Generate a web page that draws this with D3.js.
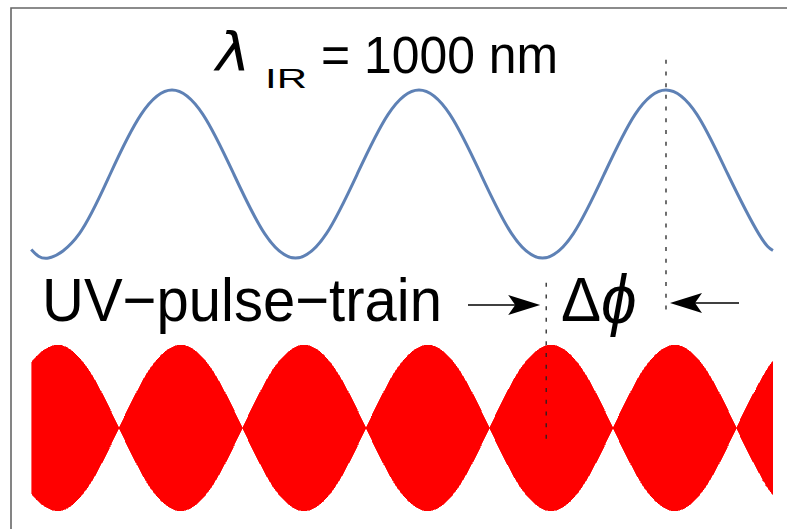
<!DOCTYPE html>
<html>
<head>
<meta charset="utf-8">
<script src="https://cdn.jsdelivr.net/npm/d3@7"></script>
<style>
  body { margin: 0; background: #fff; }
  text { font-family: "Liberation Sans", Arial, sans-serif; fill: #000; }
</style>
</head>
<body>
<div id="chart"></div>
<script>
// IR field, phase in IR cycles, field normalised to peak
const irPhase = [-0.57, -0.5, -0.375, -0.25, -0.125, 0, 0.125, 0.25, 0.375, 0.5, 0.625, 0.75, 0.875,
                 1, 1.125, 1.25, 1.375, 1.5, 1.625, 1.75, 1.875, 2, 2.125, 2.25, 2.375, 2.433]
const irField = [-0.9, -1, -0.71, 0, 0.71, 1, 0.71, 0, -0.71, -1, -0.71, 0, 0.71,
                 1, 0.71, 0, -0.71, -1, -0.71, 0, 0.71, 1, 0.71, 0, -0.71, -0.91]

// UV pulse train envelope (zeros = nodes between lobes)
const uvPhase = [-0.567, -0.527, -0.465, -0.402, -0.34, -0.277, -0.215,
                 -0.152, -0.09, -0.027, 0.035, 0.098, 0.16, 0.223, 0.285,
                 0.348, 0.41, 0.473, 0.535, 0.598, 0.66, 0.723, 0.785,
                 0.848, 0.91, 0.973, 1.035, 1.098, 1.16, 1.223, 1.285,
                 1.348, 1.41, 1.473, 1.535, 1.598, 1.66, 1.723, 1.785,
                 1.848, 1.91, 1.973, 2.035, 2.098, 2.16, 2.223, 2.285,
                 2.348, 2.41, 2.433]
const uvEnv = [0.8, 0.92, 1, 0.92, 0.71, 0.38, 0,
               0.38, 0.71, 0.92, 1, 0.92, 0.71, 0.38, 0,
               0.38, 0.71, 0.92, 1, 0.92, 0.71, 0.38, 0,
               0.38, 0.71, 0.92, 1, 0.92, 0.71, 0.38, 0,
               0.38, 0.71, 0.92, 1, 0.92, 0.71, 0.38, 0,
               0.38, 0.71, 0.92, 1, 0.92, 0.71, 0.38, 0,
               0.38, 0.71, 0.8]

// phase markers (IR cycles)
const irMarker = 2
const uvMarker = 1.515

const width = 787
const height = 529

const svg = d3.select("#chart")
  .append("svg")
    .attr("width", width)
    .attr("height", height)

// Scales
const xScale = d3.scaleLinear()
  .domain([0, 2])
  .range([172, 666])
const yIR = d3.scaleLinear()
  .domain([-1, 1])
  .range([258, 90])
const yUV = d3.scaleLinear()
  .domain([-1, 1])
  .range([511, 345])

// Frame (top + left)
svg.append("path")
  .attr("d", `M11,${height} L11,8 L${width},8`)
  .attr("fill", "none")
  .attr("stroke", "#666")
  .attr("stroke-width", 1.6)

// UV lobes, split at the nodes
const uvData = uvPhase.map((p, i) => ({ p, e: uvEnv[i] }))
const lobes = []
let cur = []
uvData.forEach((d, i) => {
  cur.push(d)
  if (d.e === 0 && i > 0) {
    lobes.push(cur)
    cur = [d]
  }
})
if (cur.length > 1) lobes.push(cur)

const uvArea = d3.area()
  .x(d => xScale(d.p))
  .y0(d => yUV(-d.e))
  .y1(d => yUV(d.e))
  .curve(d3.curveNatural)

svg.append("g")
  .selectAll("path")
  .data(lobes)
  .join("path")
    .attr("d", uvArea)
    .attr("fill", "#ff0000")
    .attr("stroke", "#ff0000")
    .attr("stroke-width", 0.6)
    .attr("shape-rendering", "crispEdges")

// IR wave
const irLine = d3.line()
  .x((d, i) => xScale(irPhase[i]))
  .y(d => yIR(d))
  .curve(d3.curveNatural)

svg.append("path")
  .attr("d", irLine(irField))
  .attr("fill", "none")
  .attr("stroke", "#5e81b5")
  .attr("stroke-width", 3)

// Dashed markers
const dashed = (x, y1, y2) => svg.append("line")
  .attr("x1", x).attr("x2", x)
  .attr("y1", y1).attr("y2", y2)
  .attr("stroke", "#222")
  .attr("stroke-width", 1.3)
  .attr("stroke-dasharray", "4,7.7")

dashed(xScale(irMarker), yIR(1.36), yIR(-1.64))
dashed(xScale(uvMarker), yUV(1.75), yUV(-0.17))

// Arrows
function arrow(x1, x2, y) {
  const dir = Math.sign(x2 - x1)
  const L = 32, W = 10, N = 7
  svg.append("line")
    .attr("x1", x1).attr("x2", x2 - dir * L + dir * N)
    .attr("y1", y).attr("y2", y)
    .attr("stroke", "#000")
    .attr("stroke-width", 1.5)
  svg.append("path")
    .attr("d", `M${x2},${y} L${x2 - dir * L},${y - W} L${x2 - dir * (L - N)},${y} L${x2 - dir * L},${y + W} Z`)
    .attr("fill", "#000")
}
arrow(468, xScale(uvMarker) - 6, 305)
arrow(739, xScale(irMarker) + 4, 303)

// Text labels (slightly stretched vertically like the reference)
function label(str, x, y, size, opts = {}) {
  const t = svg.append("text")
    .attr("transform", `translate(${x},${y}) scale(1,${opts.sy || 1.07})`)
    .style("font-size", size + "px")
    .text(str)
  if (opts.italic) t.style("font-style", "italic")
  if (opts.family) t.style("font-family", opts.family)
  if (opts.len) t.attr("textLength", opts.len).attr("lengthAdjust", "spacingAndGlyphs")
  return t
}

label("λ", 216, 71, 58, { italic: true, family: "DejaVu Sans", sy: 0.92 })
label("IR", 265, 88, 28, { len: 42, sy: 1.0 })
label("= 1000 nm", 321, 73, 49, { len: 237 })

label("UV−pulse−train", 42, 321, 58, { len: 400, sy: 1.06 })
label("Δ", 561, 321, 60, { sy: 1.06 })
label("ϕ", 601, 323, 64, { italic: true, sy: 1.06 })
</script>
</body>
</html>
